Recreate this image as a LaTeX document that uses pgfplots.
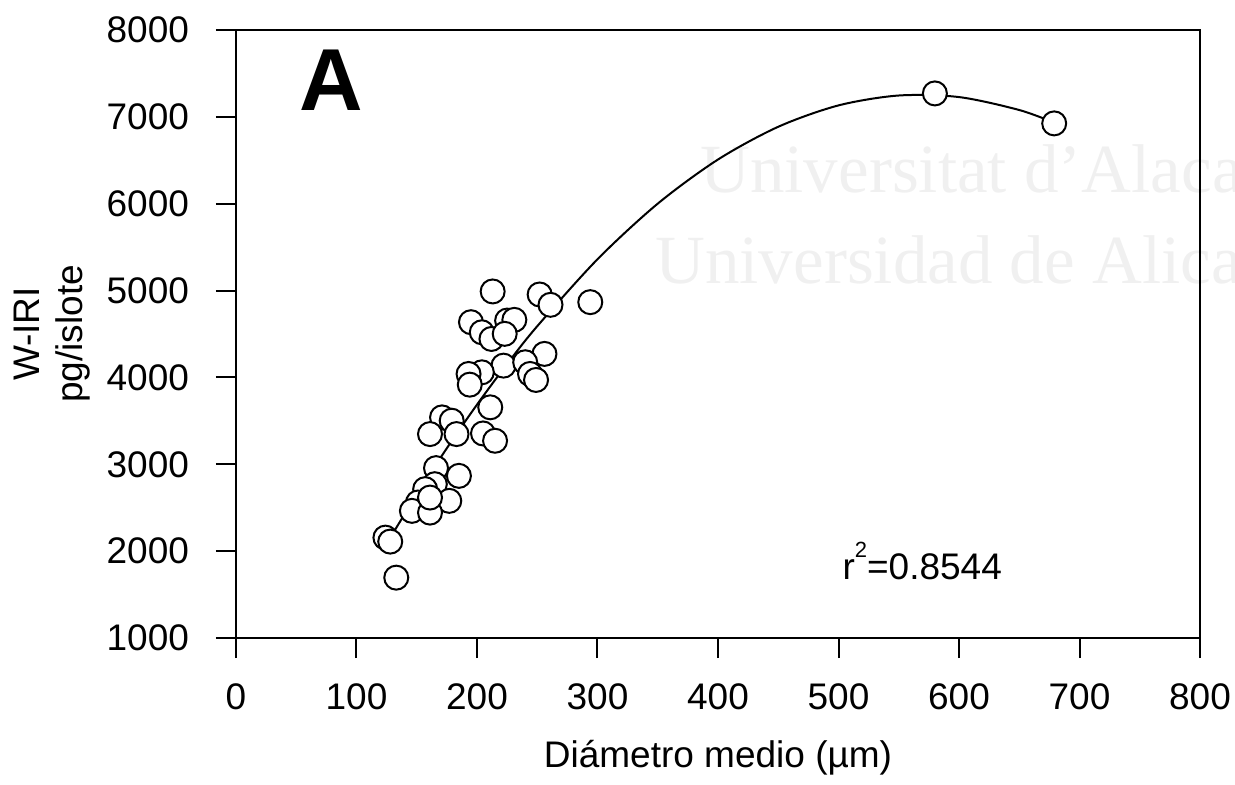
\documentclass[border=0pt]{standalone}
\usepackage{pgfplots}
\pgfplotsset{compat=1.18}
\usepackage{fontspec}
\setmainfont{Liberation Sans}
\newfontfamily\wmfont{Liberation Serif}
\newcommand{\lbl}{\fontsize{18.5}{21.5}\selectfont}
\begin{document}
\begin{tikzpicture}
% faint watermark behind the chart
\node[anchor=base west, text=black!6, inner sep=0pt, font=\wmfont\fontsize{34.5}{40}\selectfont] at (232pt,223pt) {Universitat d’Alacant};
\node[anchor=base west, text=black!6, inner sep=0pt, font=\wmfont\fontsize{34.5}{40}\selectfont] at (209.5pt,177.5pt) {Universidad de Alicante};
\begin{axis}[
  scale only axis,
  width=482pt, height=304pt,
  xmin=0, xmax=800, ymin=1000, ymax=8000,
  xtick={0,100,...,800}, ytick={1000,2000,...,8000},
  tick align=outside, xtick pos=left, ytick pos=left,
  major tick length=10pt,
  axis line style={line width=1pt},
  every tick/.style={black, line width=1pt},
  scaled ticks=false,
  /pgf/number format/1000 sep={},
  /pgf/number format/assume math mode=true,
  tick label style={font=\lbl},
  xticklabel style={yshift=-9.5pt},
  yticklabel style={xshift=-10pt},
  every axis x label/.style={at={(axis description cs:0.5,0)}, anchor=base, yshift=-64.5pt, font=\lbl},
  every axis y label/.style={at={([xshift=-92pt]axis description cs:0,0.5)}, anchor=center, rotate=90, align=center, font=\lbl},
  xlabel={Diámetro medio (µm)},
  ylabel={W-IRI\\pg/islote},
  clip=false,
]
% fitted quadratic curve
\addplot[black, line width=1pt, smooth, no markers] coordinates {
(124,2063) (150,2653) (175,3186) (200,3687) (225,4155) (250,4590)
(300,5361) (350,6001) (400,6509) (450,6886) (500,7132) (550,7246)
(600,7228) (650,7079) (680,6927)
};
% data points
\addplot[only marks, mark=*, mark size=6pt, mark options={fill=white, draw=black, line width=1pt}] coordinates {
(580,7270) (679,6925)
(213,4990) (252,4955) (261,4836) (294,4867)
(195,4636) (204,4520) (212,4443) (225,4655) (231,4663) (223,4502)
(256,4271) (222,4136) (204,4059) (193,4040) (194,3917) (240,4175) (244,4040) (249,3971)
(211,3656) (171,3540) (179,3502) (183,3348) (161,3348) (205,3355) (215,3271)
(166,2956) (185,2867) (165,2771) (157,2714) (177,2579) (151,2560) (146,2464) (161,2444) (161,2617)
(124,2156) (128,2110) (133,1695)
};
\node[anchor=base, inner sep=0pt, font=\bfseries\fontsize{44}{50}\selectfont] at (axis cs:79,7077) {A};
\node[anchor=base west, inner sep=0pt, font=\lbl] at (axis cs:503,1668) {r\raisebox{0.62em}{\fontsize{11}{11}\selectfont 2}=0.8544};
\end{axis}
\pgfresetboundingbox
\useasboundingbox (-118pt,-73pt) rectangle (499.5pt,319pt);
\end{tikzpicture}
\end{document}
